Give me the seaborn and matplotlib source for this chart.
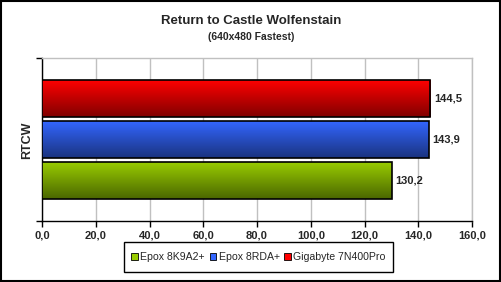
import numpy as np
import pandas as pd
import matplotlib
matplotlib.use("Agg")
import matplotlib.pyplot as plt
import seaborn as sns
from matplotlib.patches import Rectangle
from matplotlib.ticker import FuncFormatter
from matplotlib.colors import LinearSegmentedColormap

# ---- data ----
category = ["RTCW"]
series = ["Epox 8K9A2+", "Epox 8RDA+", "Gigabyte 7N400Pro"]
values = [130.2, 143.9, 144.5]
top_colors = ["#99cc00", "#3366ff", "#ff0000"]
bottom_colors = ["#4a6600", "#1a337f", "#800000"]
xticks = [0, 20, 40, 60, 80, 100, 120, 140, 160]

df = pd.DataFrame({"cat": category * len(series), "series": series, "value": values})

sns.set_style("white")
plt.rcParams["font.family"] = ["Liberation Sans", "DejaVu Sans"]

fig = plt.figure(figsize=(5.02, 2.82), dpi=100)
ax = fig.add_axes([42 / 502, 1 - 221 / 282, (472 - 42) / 502, (221 - 58) / 282])

hue_order = series[::-1]  # top to bottom: red, blue, green
pal = dict(zip(series, top_colors))
sns.barplot(data=df, x="value", y="cat", hue="series", hue_order=hue_order,
            palette=pal, saturation=1, orient="h", width=0.75, gap=0.1, ax=ax,
            edgecolor="black", linewidth=1.2, legend=False, zorder=3)

# gradient fill for each bar (match bar to series by its length)
bars = [p for p in ax.patches if isinstance(p, Rectangle)]
for bar in bars:
    w = bar.get_width()
    idx = int(np.argmin([abs(w - v) for v in values]))
    x0, y0, h = bar.get_x(), bar.get_y(), bar.get_height()
    cmap = LinearSegmentedColormap.from_list("g", [top_colors[idx], bottom_colors[idx]])
    grad = np.linspace(0, 1, 256).reshape(-1, 1)
    im = ax.imshow(grad, cmap=cmap, aspect="auto", interpolation="bilinear",
                   extent=(x0, x0 + w, y0 + h, y0), origin="upper", zorder=3.5)
    im.set_clip_path(bar)
    bar.set_facecolor("none")
    bar.set_zorder(4)
    ax.text(x0 + w + 1.3, y0 + h / 2, f"{w:.1f}".replace(".", ","),
            va="center", ha="left", fontsize=8, fontweight="bold", zorder=5)

ax.set_xlim(0, 160)
ax.set_ylim(0.5, -0.5)
ax.set_xticks(xticks)
ax.xaxis.set_major_formatter(FuncFormatter(lambda v, p: f"{v:.1f}".replace(".", ",")))
ax.set_yticks([-0.5, 0.5])
ax.set_yticklabels(["", ""])
ax.tick_params(axis="x", direction="out", length=4, width=1, labelsize=8, pad=3, color="black")
ax.tick_params(axis="y", direction="out", length=4, width=1, color="black", pad=0)
ax.tick_params(axis="both", which="both", bottom=True, left=True)
for lab in ax.get_xticklabels():
    lab.set_fontweight("bold")
ax.grid(axis="x", color="#c0c0c0", linewidth=1, zorder=0)
ax.set_axisbelow(True)
ax.set_xlabel("")
ax.set_ylabel("")
fig.text(27 / 502, 1 - 140 / 282, "RTCW", rotation=90, ha="center", va="center",
         fontsize=9, fontweight="bold")

for s in ["top", "right"]:
    ax.spines[s].set_color("#c0c0c0")
    ax.spines[s].set_linewidth(1)
for s in ["left", "bottom"]:
    ax.spines[s].set_color("black")
    ax.spines[s].set_linewidth(1)

fig.text(0.5, 1 - 21 / 282, "Return to Castle Wolfenstain", ha="center", va="center",
         fontsize=9.5, fontweight="bold")
fig.text(0.5, 1 - 37 / 282, "(640x480 Fastest)", ha="center", va="center",
         fontsize=7.5, fontweight="bold")

# legend
handles = [Rectangle((0, 0), 1, 1, facecolor=c, edgecolor="black", linewidth=0.6)
           for c in top_colors]
leg = fig.legend(handles, series, loc="center", bbox_to_anchor=(258.5 / 502, 1 - 257 / 282),
                 ncol=3, frameon=False, fontsize=7.6,
                 handlelength=0.6, handleheight=0.6, handletextpad=0.25,
                 columnspacing=0.45, borderpad=0.1)
fig.add_artist(Rectangle((124 / 502, 1 - 272 / 282), (393 - 124) / 502, 30 / 282,
                         transform=fig.transFigure, fill=False, edgecolor="black",
                         linewidth=1))

# figure border
fig.add_artist(Rectangle((0.5 / 502, 1.5 / 282), 500 / 502, 280 / 282, transform=fig.transFigure,
                         fill=False, edgecolor="black", linewidth=1.5))

fig.savefig("out.png", dpi=100)
